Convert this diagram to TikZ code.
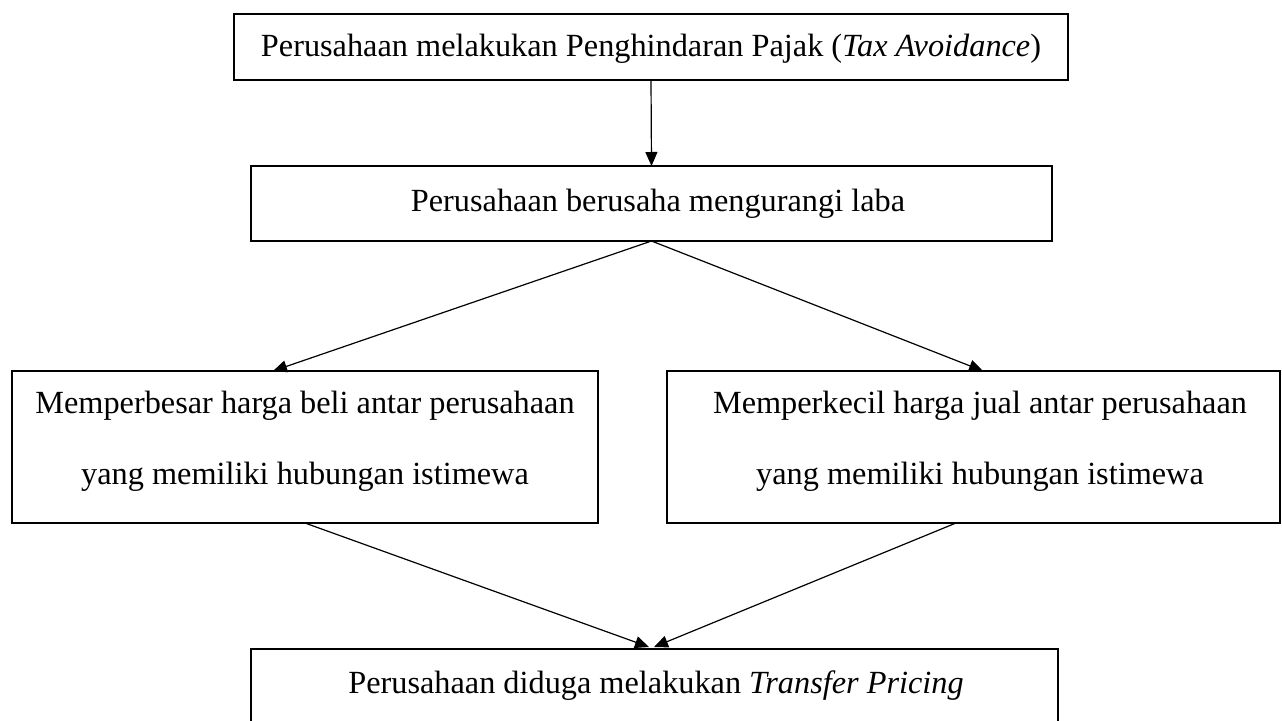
\documentclass[tikz,border=0pt]{standalone}
\usepackage{fontspec}
\setmainfont{Liberation Serif}
\usetikzlibrary{arrows.meta}
\begin{document}
\begin{tikzpicture}[x=1pt,y=-1pt,
 box/.style={draw, line width=2.4pt, inner sep=0pt, outer sep=0pt},
 lbl/.style={anchor=base, inner sep=0pt, font=\fontsize{32.3}{38}\selectfont},
 arr/.style={line width=1.2pt, -{Triangle[length=14pt,width=12pt]}}]
\useasboundingbox (0,0) rectangle (1282,720);
\clip (0,0) rectangle (1282,720);
% boxes
\node[box, minimum width=834pt, minimum height=66pt] (top) at (651,47) {};
\node[box, minimum width=801pt, minimum height=75pt] (mid) at (651.5,203.5) {};
\node[box, minimum width=586pt, minimum height=152pt] (left) at (305,447) {};
\node[box, minimum width=613pt, minimum height=152pt] (right) at (973.5,447) {};
\node[box, minimum width=807pt, minimum height=91pt] (bot) at (654.5,694.5) {};
% texts
\node[lbl] (ttop) at (651,56) {Perusahaan melakukan Penghindaran Pajak (\textit{Tax Avoidance})};
\node[lbl] (tmid) at (658,211) {Perusahaan berusaha mengurangi laba};
\node[lbl] (tl1) at (305,413) {Memperbesar harga beli antar perusahaan};
\node[lbl] (tl2) at (305,484) {yang memiliki hubungan istimewa};
\node[lbl] (tr1) at (980,413) {Memperkecil harga jual antar perusahaan};
\node[lbl] (tr2) at (980,484) {yang memiliki hubungan istimewa};
\node[lbl] (tbot) at (656,693) {Perusahaan diduga melakukan \textit{Transfer Pricing}};
% connector ends
\coordinate (lt) at (273,371);
\coordinate (rt) at (983,371);
\coordinate (rs) at (956,523);
\coordinate (bt1) at (649,647);
\coordinate (bt2) at (654,647);
% connectors
\draw[arr] (top.south) -- (mid.north);
\draw[arr] (mid.south) -- (lt);
\draw[arr] (mid.south) -- (rt);
\draw[arr] (left.south) -- (bt1);
\draw[arr] (rs) -- (bt2);
\end{tikzpicture}
\end{document}
